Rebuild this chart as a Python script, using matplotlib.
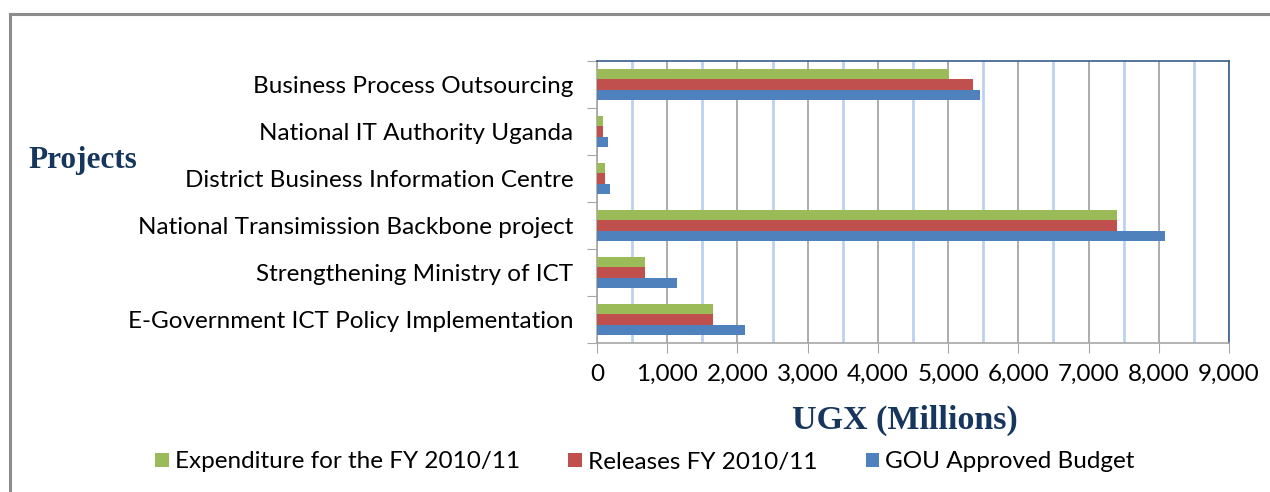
import matplotlib.pyplot as plt
from matplotlib.lines import Line2D
from matplotlib.ticker import FuncFormatter, MultipleLocator
import numpy as np

# projects listed bottom to top
projects = ["E-Government ICT Policy Implementation",
            "Strengthening Ministry of ICT",
            "National Transimission Backbone project",
            "District Business Information Centre",
            "National IT Authority Uganda",
            "Business Process Outsourcing"]
expenditure = [1650, 680, 7410, 120, 85, 5010]
releases = [1650, 680, 7410, 120, 85, 5350]
approved = [2110, 1140, 8090, 190, 155, 5460]

green = "#9BBB59"
red = "#C0504D"
blue = "#4F81BD"

fig = plt.figure(figsize=(12.7, 4.92), dpi=100)
ax = fig.add_axes([597 / 1270, 1 - 343 / 492, 632 / 1270, 282 / 492])

y = np.arange(len(projects))
h = 0.225
ax.barh(y + h, expenditure, height=h, color=green, label="Expenditure for the FY 2010/11", zorder=3)
ax.barh(y, releases, height=h, color=red, label="Releases FY 2010/11", zorder=3)
ax.barh(y - h, approved, height=h, color=blue, label="GOU Approved Budget", zorder=3)

ax.set_xlim(0, 9000)
ax.set_ylim(-0.5, 5.5)

# grid: grey at each 1000, light blue in between
ax.xaxis.set_major_locator(MultipleLocator(1000))
ax.xaxis.set_minor_locator(MultipleLocator(500))
ax.grid(True, axis="x", which="major", color="#A6A6A6", lw=1.3, zorder=1)
ax.grid(True, axis="x", which="minor", color="#BCD1F0", lw=2.0, zorder=1)
ax.xaxis.set_major_formatter(FuncFormatter(lambda v, p: f"{int(v):,}"))
ax.tick_params(axis="x", which="major", direction="out", length=7, color="#A6A6A6",
               labelsize=17.5, pad=8)
ax.tick_params(axis="x", which="minor", length=0)

# category boundary ticks, labels at centres
ax.set_yticks(np.arange(-0.5, 6, 1.0))
ax.set_yticklabels([])
ax.set_yticks(y, minor=True)
ax.set_yticklabels(projects, minor=True)
ax.tick_params(axis="y", which="major", direction="out", length=7, color="#A6A6A6")
ax.tick_params(axis="y", which="minor", length=0, labelsize=17.5, pad=17)

for lab in ax.get_xticklabels() + ax.get_yticklabels(minor=True):
    lab.set_fontfamily("Lato")

ax.spines["left"].set_color("#A6A6A6")
ax.spines["bottom"].set_color("#A6A6A6")
ax.spines["top"].set_color("#385D8A")
ax.spines["right"].set_color("#385D8A")
for s in ax.spines.values():
    s.set_linewidth(1.2)

fig.text(28 / 1270, 1 - 161 / 492, "Projects", family="Liberation Serif", weight="bold",
         fontsize=22.5, color="#17365D", va="center", ha="left")
fig.text(905 / 1270, 1 - 420 / 492, "UGX (Millions)", family="Liberation Serif", weight="bold",
         fontsize=24.5, color="#17365D", va="center", ha="center")

leg = fig.legend(loc="center", bbox_to_anchor=(645 / 1270, 1 - 462 / 492), ncol=3, frameon=False,
                 handlelength=0.55, handleheight=0.55, handletextpad=0.25, columnspacing=2.0,
                 prop={"family": "Lato", "size": 17.5})

# outer chart frame
fig.add_artist(Line2D([9.5 / 1270, 9.5 / 1270], [0, 1 - 14 / 492], color="#8C8C8C", lw=2.2,
                      transform=fig.transFigure))
fig.add_artist(Line2D([9.5 / 1270, 1], [1 - 14 / 492, 1 - 14 / 492], color="#8C8C8C", lw=2.2,
                      transform=fig.transFigure))

fig.savefig("out.png", dpi=100)
